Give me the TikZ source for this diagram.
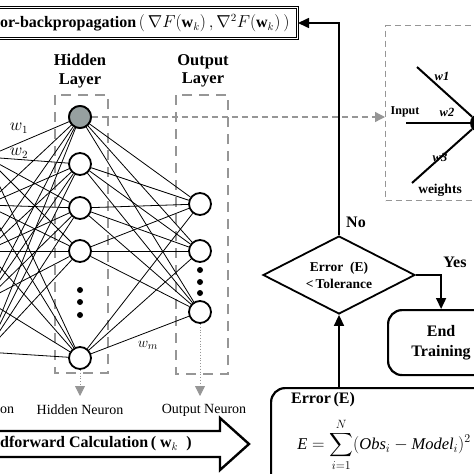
\documentclass[tikz,border=0pt]{standalone}
\usepackage{fontspec}
\setmainfont{Liberation Serif}
\usepackage{amsmath}
\usepackage{amssymb}
\usetikzlibrary{arrows.meta,calc,shapes.geometric}

\definecolor{dashgray}{RGB}{150,150,150}
\definecolor{neurongray}{RGB}{150,160,160}

\tikzset{
  neuron/.style={circle,draw,line width=1.8pt,minimum size=22pt,inner sep=0pt,fill=white},
  link/.style={line width=0.8pt},
  layerbox/.style={draw=dashgray,line width=2.2pt,dash pattern=on 10pt off 7pt},
  layertitle/.style={font=\bfseries\fontsize{16.5}{18.5}\selectfont,align=center},
  neurontext/.style={font=\fontsize{14}{16}\selectfont},
  boldtext/.style={font=\bfseries\fontsize{16}{20}\selectfont},
  flow/.style={line width=1.6pt,-{Triangle[length=11pt,width=10pt]}},
  downarrow/.style={draw=dashgray,line width=0.8pt,dotted,-{Triangle[length=10pt,width=10pt,fill=dashgray]}},
  roundbox/.style={draw,line width=2.2pt,rounded corners=14pt}
}

\begin{document}
\begin{tikzpicture}[x=1pt,y=-1pt]
	\useasboundingbox (0,0) rectangle (474,474);
	\clip (0,0) rectangle (474,474);

	% layers
	\draw[layerbox] (55,95) rectangle (108,373);
	\draw[layerbox] (176,95) rectangle (228,374);
	\node[layertitle] (htitle) at (80,71) {Hidden\\Layer};
	\node[layertitle] (otitle) at (203,71) {Output\\Layer};

	\foreach \y [count=\i] in {157,205,251,300,352}
		\node[neuron] (in\i) at (-14,\y) {};
	\foreach \y [count=\i] in {117,164,208,251,358}
		\node[neuron] (h\i) at (80,\y) {};
	\foreach \y [count=\i] in {204,251,312}
		\node[neuron] (o\i) at (200,\y) {};
	\node[neuron,fill=neurongray] at (h1) {};

	\foreach \i in {1,...,5}
		\foreach \j in {1,...,5}
			\draw[link] (in\i) -- (h\j);
	\foreach \i in {1,...,5}
		\foreach \j in {1,2,3}
			\draw[link] (h\i) -- (o\j);

	\foreach \y in {290,302,315} \fill (80,\y) circle (3pt);
	\foreach \y in {270,282,293} \fill (200,\y) circle (3pt);

	\node[font=\fontsize{16}{18}\selectfont] (wone) at (19,128) {$w_1$};
	\node[font=\fontsize{16}{18}\selectfont] (wtwo) at (19,153) {$w_2$};
	\node[font=\fontsize{15}{17}\selectfont] (wm) at (148,345) {$w_m$};

	\coordinate (hdown) at (80,396);
	\coordinate (odown) at (200,396);
	\draw[downarrow] (h5) -- (hdown);
	\draw[downarrow] (o3) -- (odown);
	\node[neurontext,anchor=west,inner sep=0pt] (intext) at (0,410) {on};
	\node[neurontext] (htext) at (80,410) {Hidden Neuron};
	\node[neurontext] (otext) at (204,410) {Output Neuron};

	% feedforward arrow
	\draw[line width=2.4pt,line join=miter] (-10,431) -- (220,431) -- (220,418) -- (249,444) -- (220,470) -- (220,457) -- (-10,457);
	\node[boldtext,anchor=west,inner sep=0pt] (fftext) at (0,444) {dforward Calculation\,( $\mathbf{w}_k$\ \ )};

	% backpropagation box
	\node[draw,double,line width=1.1pt,double distance=1.6pt,minimum width=330pt,minimum height=31pt,inner sep=0pt,anchor=east] (bpbox) at (298,23) {};
	\node[boldtext,anchor=west,inner sep=0pt] (bptext) at (0,23) {or-backpropagation\,$(\,\nabla F(\mathbf{w}_k)\,,\nabla^2 F(\mathbf{w}_k)\,)$};

	% single neuron box
	\node[draw=dashgray,line width=1.3pt,dash pattern=on 6pt off 4pt,minimum width=120pt,minimum height=175pt,anchor=north west] (wbox) at (385,25) {};
	\draw[draw=dashgray,line width=1.3pt,dash pattern=on 6pt off 4pt,-{Triangle[length=10pt,width=10pt,fill=dashgray]}] (h1.east) -- (h1.east -| wbox.west);
	\node[circle,fill,minimum size=18pt,inner sep=0pt] (sumdot) at (479,123) {};
	\coordinate (inA) at (417,67);
	\coordinate (inB) at (406,123);
	\coordinate (inC) at (412,183);
	\foreach \c in {inA,inB,inC}
		\draw[line width=2pt] (\c) -- (sumdot);
	\node[font=\bfseries\itshape\fontsize{12.5}{14}\selectfont] (wlabA) at (442,76) {w1};
	\node[font=\bfseries\itshape\fontsize{12.5}{14}\selectfont] (wlabB) at (447,112) {w2};
	\node[font=\bfseries\itshape\fontsize{12.5}{14}\selectfont] (wlabC) at (440,157) {w3};
	\node[font=\bfseries\fontsize{12}{14}\selectfont] (inputlab) at (405,112) {Input};
	\node[font=\bfseries\fontsize{13.5}{15}\selectfont] (weightlab) at (440,190) {weights};

	% decision
	\node[diamond,draw,line width=1.8pt,aspect=2,minimum width=152pt,minimum height=78pt,inner sep=0pt,align=center,font=\bfseries\fontsize{13.5}{17}\selectfont] (check) at (339,275) {Error\ \ (E)\\<\,Tolerance};
	\node[roundbox,minimum width=106pt,minimum height=65pt,anchor=north west,align=center,boldtext] (endbox) at (387,309) {End\\Training};
	\node[roundbox,minimum width=240pt,minimum height=110pt,anchor=north west] (errbox) at (270,387) {};
	\node[boldtext,anchor=west,inner sep=1pt] (errlabel) at (290,400) {Error\,(E)};
	\node[font=\fontsize{16.5}{18}\selectfont,inner sep=0pt] (errformula) at (384,445) {$\textit{E}=\displaystyle\sum_{i=1}^{N}(\textit{Obs}_i-\textit{Model}_i)^2$};

	\draw[flow] (check.south |- errbox.north) -- (check.south);
	\draw[flow] (check.east) -| (endbox.north);
	\draw[flow] (check.north) |- (bpbox.east);
	\node[boldtext] (yeslab) at (455,262) {Yes};
	\node[boldtext] (nolab) at (356,222) {No};

\end{tikzpicture}
\end{document}
